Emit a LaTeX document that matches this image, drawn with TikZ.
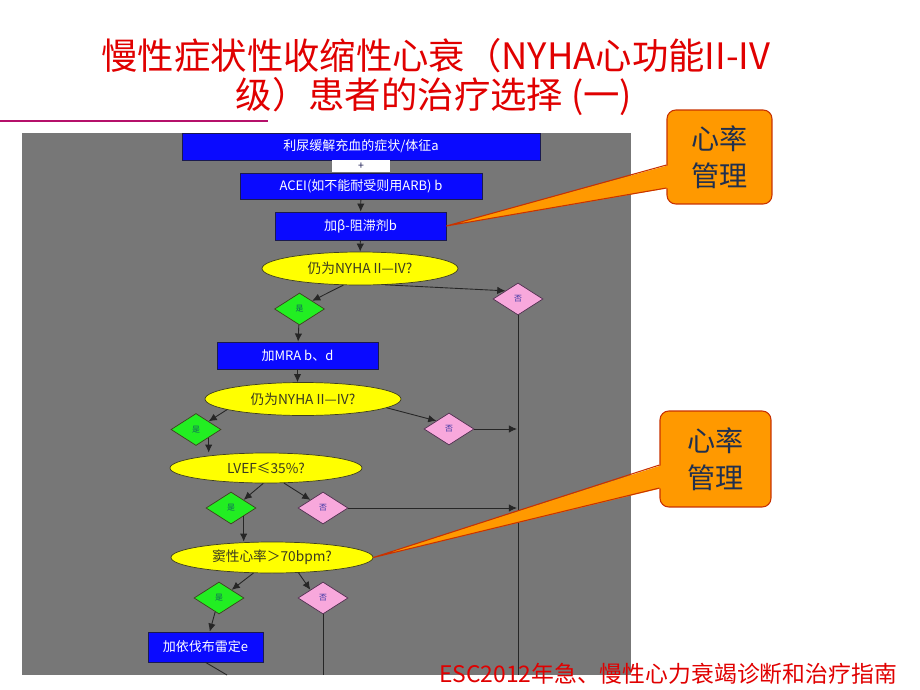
\documentclass[tikz,border=0pt]{standalone}
\usepackage{fontspec}
\newfontfamily\cjk{Noto Sans CJK SC}
\usetikzlibrary{shapes.geometric,arrows.meta}
\definecolor{titlered}{HTML}{E00000}
\definecolor{barpink}{HTML}{B5106A}
\definecolor{panel}{HTML}{777777}
\definecolor{boxblue}{HTML}{0A0AFF}
\definecolor{boxedge}{HTML}{1A1A50}
\definecolor{askyellow}{HTML}{FFFF00}
\definecolor{askedge}{HTML}{404020}
\definecolor{asktext}{HTML}{3A3A20}
\definecolor{yesgreen}{HTML}{22EE22}
\definecolor{yestext}{HTML}{106060}
\definecolor{nopink}{HTML}{F8A8DC}
\definecolor{noedge}{HTML}{503050}
\definecolor{notext}{HTML}{3030A0}
\definecolor{bubbleorange}{HTML}{FF9900}
\definecolor{bubbleedge}{HTML}{C83200}
\definecolor{bubbletext}{HTML}{1F2F4F}

\begin{document}
\begin{tikzpicture}[x=0.02cm,y=-0.02cm,
  title/.style={text=titlered,font=\cjk\fontsize{20.7}{24}\selectfont,inner sep=0pt},
  box/.style={draw=boxedge,fill=boxblue,text=white,font=\cjk\fontsize{7.4}{9}\selectfont,inner sep=0pt},
  ask/.style={ellipse,draw=askedge,fill=askyellow,text=asktext,font=\cjk\fontsize{7.8}{9}\selectfont,inner sep=0pt,minimum width=3.92cm,minimum height=0.66cm},
  yes/.style={diamond,draw=askedge,fill=yesgreen,text=yestext,font=\cjk\fontsize{4.5}{5}\selectfont,inner sep=0pt,minimum width=1cm,minimum height=0.64cm},
  no/.style={diamond,draw=noedge,fill=nopink,text=notext,font=\cjk\fontsize{4.5}{5}\selectfont,inner sep=0pt,minimum width=1cm,minimum height=0.64cm},
  flow/.style={draw=black!85,line width=0.5pt,-{Latex[length=4.6pt,width=4.2pt]}},
  rail/.style={draw=black!85,line width=0.5pt},
  bubble/.style={draw=bubbleedge,fill=bubbleorange,rounded corners=5pt,text=bubbletext,align=center,font=\cjk\fontsize{16}{21}\selectfont,line width=0.6pt}]
  \useasboundingbox (0,0) rectangle (920,690);
  \fill[panel] (22,133) rectangle (631,675);
  \draw[barpink,line width=1.7pt] (0,121) -- (268,121);

  % title
  \node[title] (head1) at (436,56) {慢性症状性收缩性心衰（NYHA心功能II-IV};
  \node[title] (head2) at (434,96) {级）患者的治疗选择 (一)};

  % flow chart
  \node[box,minimum width=7.16cm,minimum height=0.54cm] (diur) at (361,146.5) {利尿缓解充血的症状/体征a};
  \node[fill=white,text=boxedge,minimum width=1.16cm,minimum height=0.24cm,inner sep=0pt,font=\cjk\fontsize{6}{6}\selectfont] (plus) at (361,166) {+};
  \node[box,minimum width=4.84cm,minimum height=0.52cm] (acei) at (361,186) {ACEI(如不能耐受则用ARB) b};
  \node[box,minimum width=3.42cm,minimum height=0.56cm] (beta) at (360.5,226) {加β-阻滞剂b};
  \node[ask] (q1) at (360,268.5) {仍为NYHA II—IV?};
  \node[yes] (y1) at (299.5,309) {是};
  \node[no] (n1) at (518,299) {否};
  \node[box,minimum width=3.22cm,minimum height=0.54cm] (mra) at (297.5,355.5) {加MRA b、d};
  \node[ask] (q2) at (303,399) {仍为NYHA II—IV?};
  \node[yes] (y2) at (196,429.5) {是};
  \node[no] (n2) at (449,429) {否};
  \node[ask,minimum width=3.84cm,minimum height=0.6cm] (q3) at (266,468) {LVEF≤35\%?};
  \node[yes] (y3) at (231,508) {是};
  \node[no] (n3) at (323,508) {否};
  \node[ask,minimum width=4.04cm,minimum height=0.62cm] (q4) at (272,557.5) {窦性心率＞70bpm?};
  \node[yes] (y4) at (219,598) {是};
  \node[no] (n4) at (323,598) {否};
  \node[box,minimum width=2.3cm,minimum height=0.6cm] (ivab) at (205.5,647) {加依伐布雷定e};
  \coordinate (railx) at (517,300);
  \coordinate (cut) at (0,675);
  \coordinate (ivabnext) at (227,675);

  \draw[flow] (acei) -- (beta);
  \draw[flow] (beta) -- (q1);
  \draw[flow] (q1.-135) -- (y1.north east);
  \draw[flow] (q1.-33) -- (n1.north west);
  \draw[flow] (y1) -- (mra);
  \draw[flow] (mra) -- (mra.south |- q2.north);
  \draw[flow] (q2.-172) -- (y2.north east);
  \draw[flow] (q2.-6) -- (n2.north west);
  \draw[flow] (n2.east) -- (n2.east -| railx);
  \draw[flow] (y2.south east) -- (y2.south east |- q3.north);
  \draw[flow] (q3.-100) -- (y3.north east);
  \draw[flow] (q3.-40) -- (n3.north west);
  \draw[flow] (n3.east) -- (n3.east -| railx);
  \draw[flow] (y3.south east) -- (y3.south east |- q4.north);
  \draw[flow] (q4.-140) -- (y4.north east);
  \draw[flow] (q4.-30) -- (n4.north west);
  \draw[flow] (y4) -- (ivab);
  \draw[rail] (n1.south) -- (n1.south |- cut);
  \draw[rail] (n4.south) -- (n4.south |- cut);
  \draw[rail] (ivab.south) -- (ivabnext);

  % heart rate callouts
  \node[bubble,minimum width=2.1cm,minimum height=1.88cm] (hr1) at (719.5,157) {心率\\管理};
  \fill[bubbleorange] ([xshift=0.06cm,yshift=-0.16cm]hr1.west) -- (beta.east) -- ([xshift=0.06cm,yshift=-0.62cm]hr1.west) -- cycle;
  \draw[bubbleedge,line width=0.6pt] ([yshift=-0.16cm]hr1.west) -- (beta.east) -- ([yshift=-0.62cm]hr1.west);
  \node[bubble,minimum width=2.22cm,minimum height=1.92cm] (hr2) at (715.5,459) {心率\\管理};
  \fill[bubbleorange] ([xshift=0.06cm,yshift=-0.12cm]hr2.west) -- (q4.east) -- ([xshift=0.06cm,yshift=-0.58cm]hr2.west) -- cycle;
  \draw[bubbleedge,line width=0.6pt] ([yshift=-0.12cm]hr2.west) -- (q4.east) -- ([yshift=-0.58cm]hr2.west);

  % source
  \node[title,font=\cjk\fontsize{13}{15}\selectfont] (src) at (668,674) {ESC2012年急、慢性心力衰竭诊断和治疗指南};
\end{tikzpicture}
\end{document}
